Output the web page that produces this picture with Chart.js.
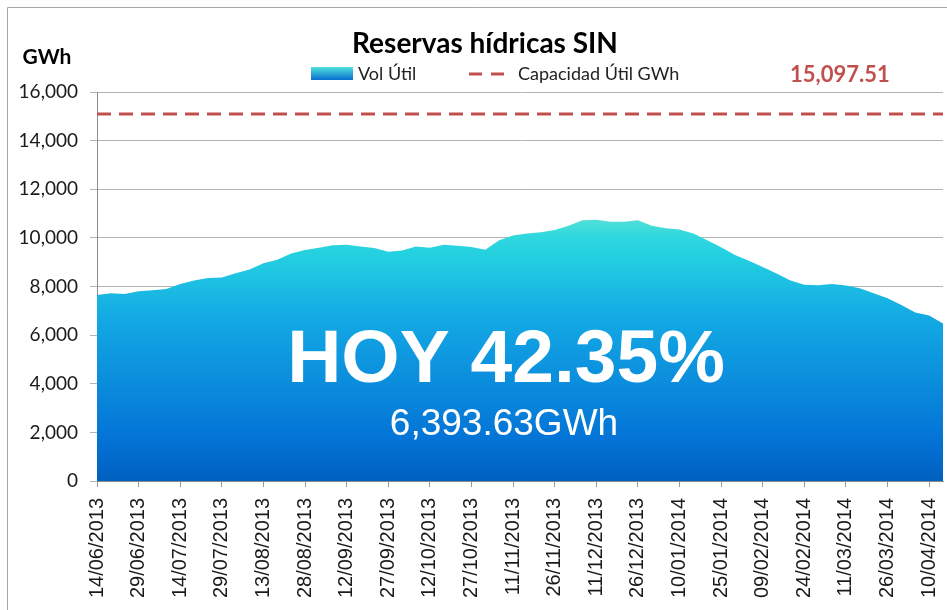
<!DOCTYPE html>
<html>
<head>
<meta charset="utf-8">
<script src="https://cdn.jsdelivr.net/npm/chart.js@4.4.1/dist/chart.umd.min.js"></script>
<style>
  body { margin: 0; background: #fff; }
  #wrap { width: 947px; height: 610px; position: relative; }
</style>
</head>
<body>
<div id="wrap"><canvas id="myChart" width="947" height="610"></canvas></div>
<script>
// datos, un punto cada 5 dias desde 14/06/2013
const fechaInicio = '14/06/2013';
const pasoDias = 5;
const volUtil = [
  7650, 7720, 7690, 7800, 7850, 7900, 8100, 8250, 8350, 8370,
  8550, 8700, 8960, 9100, 9360, 9500, 9590, 9700, 9720, 9650,
  9580, 9430, 9480, 9650, 9590, 9720, 9680, 9620, 9510, 9900,
  10100, 10180, 10230, 10320, 10500, 10720, 10750, 10660, 10660, 10730,
  10500, 10400, 10340, 10180, 9900, 9610, 9300, 9060, 8800, 8530,
  8250, 8070, 8050, 8100, 8040, 7930, 7720, 7520, 7240, 6930,
  6810, 6480
];
const capacidadUtil = 15097.51;
const hoyPct = '42.35%';
const hoyGWh = '6,393.63';
const yTicks = [0, 2000, 4000, 6000, 8000, 10000, 12000, 14000, 16000];

function fmtFecha(d) {
  const dd = String(d.getUTCDate()).padStart(2, '0');
  const mm = String(d.getUTCMonth() + 1).padStart(2, '0');
  return dd + '/' + mm + '/' + d.getUTCFullYear();
}
const p = fechaInicio.split('/');
const t0 = Date.UTC(+p[2], +p[1] - 1, +p[0]);
const labels = volUtil.map((v, i) => fmtFecha(new Date(t0 + i * pasoDias * 86400000)));

function areaGradient(ctx, area) {
  const g = ctx.createLinearGradient(0, area.bottom, 0, area.top);
  g.addColorStop(0, '#0060c0');
  g.addColorStop(0.11, '#0474d6');
  g.addColorStop(0.42, '#13a9e4');
  g.addColorStop(0.58, '#24d0e0');
  g.addColorStop(0.63, '#30d8de');
  g.addColorStop(0.72, '#7ae6cf');
  g.addColorStop(1, '#a0f0d0');
  return g;
}

const extras = {
  id: 'extras',
  afterDraw(chart) {
    const c = chart.ctx;
    c.save();
    // marco
    c.strokeStyle = '#a6a6a6';
    c.lineWidth = 1;
    c.beginPath();
    c.moveTo(7.5, 610); c.lineTo(7.5, 7.5); c.lineTo(947, 7.5);
    c.stroke();

    c.fillStyle = '#000';
    c.textBaseline = 'alphabetic';
    c.textAlign = 'center';
    c.font = 'bold 28px Lato';
    c.fillText('Reservas hídricas SIN', 485, 53);
    c.font = 'bold 21px Lato';
    c.fillText('GWh', 47, 64);

    // leyenda
    const lg = c.createLinearGradient(0, 67, 0, 80);
    lg.addColorStop(0, '#4fe0dc');
    lg.addColorStop(1, '#0a6fd0');
    c.fillStyle = lg;
    c.fillRect(311, 67, 42, 13);
    c.fillStyle = '#222';
    c.textAlign = 'left';
    c.font = '18px Lato';
    c.fillText('Vol Útil', 358, 80);
    c.fillText('Capacidad Útil GWh', 518, 80);
    c.strokeStyle = '#c0504d';
    c.lineWidth = 3;
    c.setLineDash([13, 9]);
    c.beginPath();
    c.moveTo(469, 74); c.lineTo(506, 74);
    c.stroke();
    c.setLineDash([]);
    c.fillStyle = '#c0504d';
    c.font = 'bold 22px Lato';
    c.fillText(capacidadUtil.toLocaleString('en-US', {minimumFractionDigits: 2}), 790, 82);

    // texto HOY
    c.fillStyle = '#fff';
    c.textAlign = 'center';
    c.font = 'bold 75px "Liberation Sans"';
    c.fillText('HOY ' + hoyPct, 506, 382);
    c.font = '37px "Liberation Sans"';
    c.fillText(hoyGWh + 'GWh', 504, 435);
    c.restore();
  }
};

const ctx = document.getElementById('myChart').getContext('2d');
const myChart = new Chart(ctx, {
  type: 'line',
  data: {
    labels: labels,
    datasets: [{
      label: 'Vol Útil',
      data: volUtil,
      fill: 'origin',
      borderWidth: 0,
      pointRadius: 0,
      backgroundColor: (context) => {
        const area = context.chart.chartArea;
        if (!area) return '#13a9e4';
        return areaGradient(context.chart.ctx, area);
      }
    }, {
      label: 'Capacidad Útil GWh',
      data: volUtil.map(() => capacidadUtil),
      borderColor: '#c0504d',
      borderWidth: 3,
      borderDash: [14, 8],
      pointRadius: 0,
      fill: false
    }]
  },
  options: {
    responsive: false,
    animation: false,
    layout: { padding: { top: 92, right: 4, left: 0, bottom: 0 } },
    scales: {
      x: {
        afterFit: (s) => { s.height = 129; s.paddingLeft = 0; s.paddingRight = 0; },
        grid: { drawOnChartArea: false, drawTicks: true, tickLength: 6, color: '#9a9a9a' },
        border: { color: '#8c8c8c' },
        ticks: {
          autoSkip: false,
          maxRotation: 90,
          minRotation: 90,
          padding: 11,
          color: '#1a1a1a',
          font: { family: 'Liberation Sans', size: 20 },
          callback: function (v, i) {
            return i % 3 === 0 ? this.getLabelForValue(v) : null;
          }
        }
      },
      y: {
        min: 0,
        max: 16000,
        afterFit: (s) => { s.width = 97; },
        afterBuildTicks: (s) => { s.ticks = yTicks.map(v => ({ value: v })); },
        grid: { color: '#b4b4b4', tickLength: 7 },
        border: { color: '#8c8c8c' },
        ticks: {
          padding: 12,
          color: '#1a1a1a',
          font: { family: 'Lato', size: 19 },
          callback: (v) => v.toLocaleString('en-US')
        }
      }
    },
    plugins: {
      legend: { display: false },
      tooltip: { enabled: false }
    }
  },
  plugins: [extras]
});
</script>
</body>
</html>
